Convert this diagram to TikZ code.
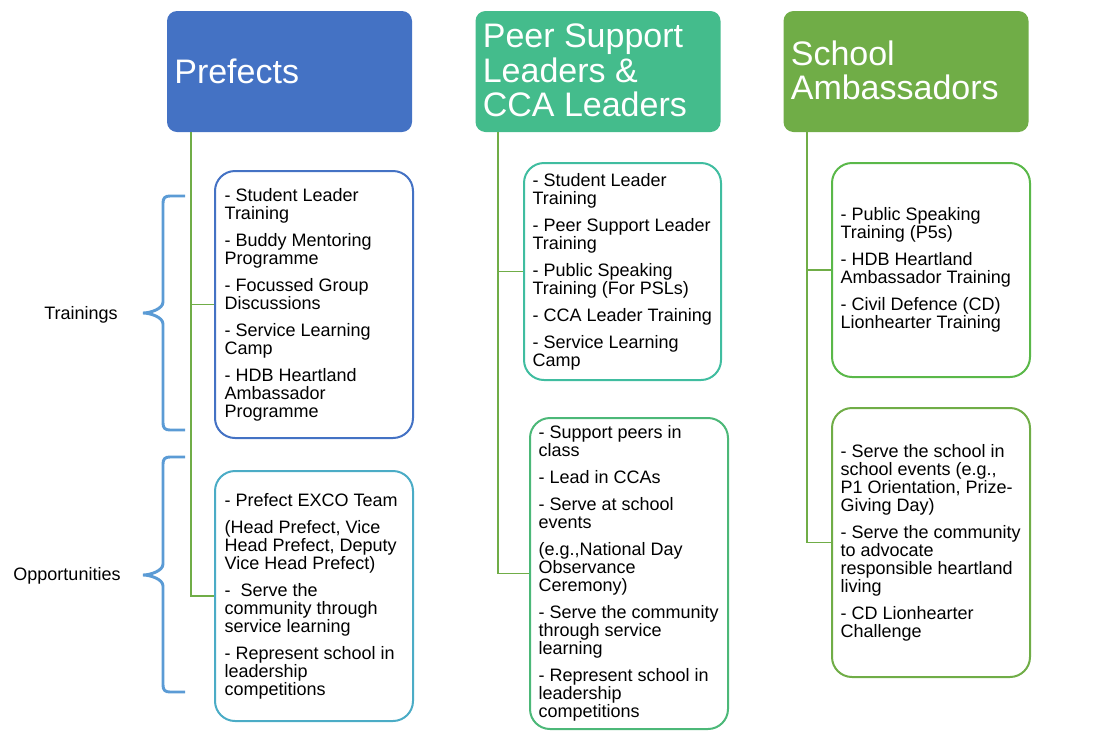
\documentclass[tikz,border=0pt]{standalone}
\usepackage{fontspec}
\setmainfont{Liberation Sans}
\usetikzlibrary{positioning}
\definecolor{royal}{RGB}{68,114,196}
\definecolor{jade}{RGB}{68,188,140}
\definecolor{grass}{RGB}{112,173,71}
\definecolor{sky}{RGB}{91,155,213}
\definecolor{lagoon}{RGB}{75,172,198}
\definecolor{mintteal}{RGB}{64,189,160}
\definecolor{fern}{RGB}{76,184,120}
\definecolor{sprout}{RGB}{90,184,73}
\newcommand{\itemgap}{6.75pt}
\tikzset{
  header/.style={fill=#1,rounded corners=7.5pt,minimum width=183.75pt,
    minimum height=90.75pt,inner sep=0pt},
  htext/.style={text=white,align=left,inner sep=0pt,
    font=\fontsize{25.5}{25.8}\selectfont},
  card/.style={draw=#1,fill=white,line width=1.5pt,rounded corners=15pt,
    minimum width=148.5pt,inner sep=0pt},
  items/.style={align=left,inner sep=0pt,font=\fontsize{13.5}{13.5}\selectfont},
  side/.style={inner sep=0pt,font=\fontsize{13.5}{13.5}\selectfont},
  link/.style={draw=grass,line width=1.3pt},
  curly/.style={draw=sky,line width=2.2pt},
}
\begin{document}
\begin{tikzpicture}[x=0.75pt,y=-0.75pt]
  \useasboundingbox (0,0) rectangle (1107,747);
  % column headers
  \node[header=royal] (pref) at (289.5,71.5) {};
  \node[htext,right=5.5pt of pref.west] (preftxt) {Prefects};
  \node[header=jade] (peer) at (598,71.5) {};
  \node[htext,right=5.5pt of peer.west,yshift=0.75pt] (peertxt) {Peer Support\\Leaders \&\\CCA Leaders};
  \node[header=grass] (amb) at (906,71.5) {};
  \node[htext,right=5.5pt of amb.west,yshift=0.75pt] (ambtxt) {School\\Ambassadors};
  % prefects
  \node[card=royal,minimum height=200.25pt] (ptrain) at (314,304.5) {};
  \node[items,right=7.8pt of ptrain.west] {- Student Leader\\Training\\[\itemgap]- Buddy Mentoring\\Programme\\[\itemgap]- Focussed Group\\Discussions\\[\itemgap]- Service Learning\\Camp\\[\itemgap]- HDB Heartland\\Ambassador\\Programme};
  \node[card=lagoon,minimum height=187.5pt] (popp) at (314,596) {};
  \node[items,right=7.8pt of popp.west] {- Prefect EXCO Team\\[\itemgap](Head Prefect, Vice\\Head Prefect, Deputy\\Vice Head Prefect)\\[\itemgap]- ~Serve the\\community through\\service learning\\[\itemgap]- Represent school in\\leadership\\competitions};
  % peer support & cca leaders
  \node[card=mintteal,minimum height=162.75pt,minimum width=147.75pt] (strain) at (622.5,271.5) {};
  \node[items,right=7pt of strain.west] {- Student Leader\\Training\\[\itemgap]- Peer Support Leader\\Training\\[\itemgap]- Public Speaking\\Training (For PSLs)\\[\itemgap]- CCA Leader Training\\[\itemgap]- Service Learning\\Camp};
  \node[card=fern,minimum height=233.25pt] (sopp) at (629,573.5) {};
  \node[items,right=7pt of sopp.west] {- Support peers in\\class\\[\itemgap]- Lead in CCAs\\[\itemgap]- Serve at school\\events\\[\itemgap](e.g.,National Day\\Observance\\Ceremony)\\[\itemgap]- Serve the community\\through service\\learning\\[\itemgap]- Represent school in\\leadership\\competitions};
  % school ambassadors
  \node[card=sprout,minimum height=160.5pt] (atrain) at (931,270) {};
  \node[items,right=7pt of atrain.west] {- Public Speaking\\Training (P5s)\\[\itemgap]- HDB Heartland\\Ambassador Training\\[\itemgap]- Civil Defence (CD)\\Lionhearter Training};
  \node[card=grass,minimum height=201.75pt] (aopp) at (931,542.5) {};
  \node[items,right=7pt of aopp.west] {- Serve the school in\\school events (e.g.,\\P1 Orientation, Prize-\\Giving Day)\\[\itemgap]- Serve the community\\to advocate\\responsible heartland\\living\\[\itemgap]- CD Lionhearter\\Challenge};
  % connectors
  \draw[link] ([xshift=18pt]pref.south west) |- (ptrain.west);
  \draw[link] ([xshift=18pt]pref.south west) |- (popp.west);
  \draw[link] ([xshift=17.25pt]peer.south west) |- (strain.west);
  \draw[link] ([xshift=17.25pt]peer.south west) |- (sopp.west);
  \draw[link] ([xshift=18pt]amb.south west) |- (atrain.west);
  \draw[link] ([xshift=18pt]amb.south west) |- (aopp.west);
  % braces and side labels
  \draw[curly] (185,196) -- (170,196) .. controls (165,196) and (163,198) .. (163,203)
    -- (163,302) .. controls (163,309) and (150,313) .. (143,313)
    .. controls (150,313) and (163,317) .. (163,324) -- (163,423)
    .. controls (163,428) and (165,430) .. (170,430) -- (185,430);
  \draw[curly] (185,457) -- (170,457) .. controls (165,457) and (163,459) .. (163,464)
    -- (163,564) .. controls (163,571) and (150,575) .. (143,575)
    .. controls (150,575) and (163,579) .. (163,586) -- (163,685)
    .. controls (163,690) and (165,692) .. (170,692) -- (185,692);
  \node[side] (trainlbl) at (81,314.5) {Trainings};
  \node[side] (opplbl) at (67,575.5) {Opportunities};
\end{tikzpicture}
\end{document}
